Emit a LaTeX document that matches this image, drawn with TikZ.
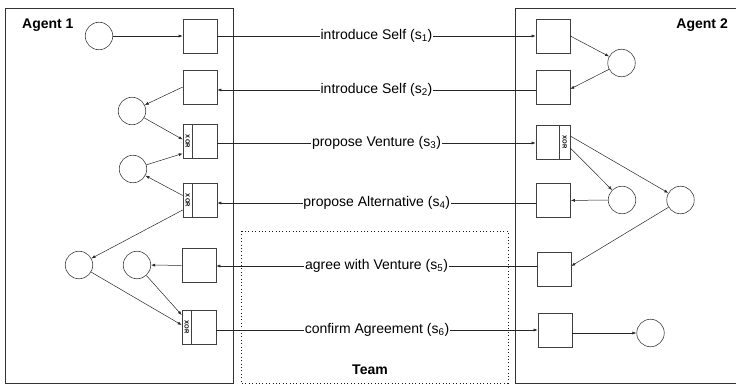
\documentclass[tikz,border=0pt]{standalone}
\usepackage{fontspec}
\setmainfont{Liberation Sans}
\usetikzlibrary{arrows.meta}
\begin{document}
\begin{tikzpicture}[x=1pt,y=-1pt,
  frame/.style={draw=black!80,line width=0.7pt},
  sq/.style={draw=black!75,line width=0.6pt,minimum size=34pt,inner sep=0pt},
  pl/.style={draw=black!75,line width=0.6pt,circle,minimum size=27.5pt,inner sep=0pt},
  arr/.style={draw=black!85,line width=0.5pt,-{Latex[length=4pt,width=3pt]}},
  lbl/.style={fill=white,inner sep=0.6pt,font=\fontsize{14}{16}\selectfont},
  ttl/.style={font=\fontsize{14}{16}\selectfont\bfseries,inner sep=0pt},
  xortxt/.style={font=\fontsize{6}{7}\selectfont\bfseries,rotate=-90,inner sep=0pt}]
\useasboundingbox (0,0) rectangle (736,385);
% frames
\draw[frame] (5,8) rectangle (233,383);
\draw[frame] (515,8) rectangle (745,383);
\draw[black!90,line width=1pt,dash pattern=on 1pt off 2.4pt] (241,231) rectangle (508,383);
\node[ttl,anchor=west] (ag1) at (22,25) {Agent 1};
\node[ttl,anchor=east] (ag2) at (728,25) {Agent 2};
\node[ttl] (team) at (370,370) {Team};
% Agent 1 nodes
\node[pl] (c1) at (99,36) {};
\node[sq] (s1) at (200,36) {};
\node[sq] (s2) at (200,87) {};
\node[pl] (c2) at (132,111) {};
\node[sq] (x3) at (200,141.5) {};
\node[pl] (c3) at (133,169) {};
\node[sq] (x4) at (200,200.5) {};
\node[pl] (c4) at (79,265) {};
\node[pl] (c5) at (137,265) {};
\node[sq] (s5) at (199,265.5) {};
\node[sq] (x6) at (199,327) {};
% Agent 2 nodes
\node[sq] (t1) at (553,36) {};
\node[sq] (t2) at (553,87) {};
\node[pl] (d1) at (621.5,63) {};
\node[sq] (y3) at (553,142) {};
\node[sq] (t4) at (553.5,200.5) {};
\node[pl] (d4a) at (622,200) {};
\node[pl] (d4b) at (680.5,200) {};
\node[sq] (t5) at (554,269) {};
\node[sq] (t6) at (555,330.5) {};
\node[pl] (d6) at (650.5,333) {};
% XOR strips
\foreach \n in {x3,x4,x6}{
  \draw[black!75,line width=0.6pt] ([xshift=10pt]\n.north west) -- ([xshift=10pt]\n.south west);
  \node[xortxt] at ([xshift=5pt]\n.west) {XOR};
}
\draw[black!75,line width=0.6pt] ([xshift=-11pt]y3.north east) -- ([xshift=-11pt]y3.south east);
\node[xortxt] at ([xshift=-5.5pt]y3.east) {XOR};
% Agent 1 arrows
\draw[arr] (c1) -- (s1);
\draw[arr] (s2.west) -- (c2);
\draw[arr] (c2) -- ([yshift=2pt]x3.west);
\draw[arr] (c3) -- ([yshift=-12pt]x3.west);
\draw[arr] ([yshift=5pt]x4.west) -- (c3);
\draw[arr] ([yshift=-9.5pt]x4.west) -- (c4);
\draw[arr] (s5) -- (c5);
\draw[arr] (c4) -- ([yshift=2pt]x6.west);
\draw[arr] (c5) -- ([yshift=12pt]x6.west);
% Agent 2 arrows
\draw[arr] (t1.east) -- (d1);
\draw[arr] (d1) -- ([yshift=-2pt]t2.east);
\draw[arr] ([yshift=6pt]y3.east) -- (d4b);
\draw[arr] ([yshift=-6pt]y3.east) -- (d4a);
\draw[arr] (d4a) -- (t4);
\draw[arr] (d4b) -- ([yshift=3pt]t5.east);
\draw[arr] ([yshift=-2.5pt]t6.east) -- (d6);
% messages
\draw[arr] (s1.east) -- node[lbl]{introduce Self (s\textsubscript{1})} (t1.west);
\draw[arr] ([yshift=-3pt]t2.west) -- node[lbl]{introduce Self (s\textsubscript{2})} ([yshift=-3pt]s2.east);
\draw[arr] ([yshift=-1.5pt]x3.east) -- node[lbl]{propose Venture (s\textsubscript{3})} ([yshift=-1pt]y3.west);
\draw[arr] ([yshift=-2.5pt]t4.west) -- node[lbl]{propose Alternative (s\textsubscript{4})} ([yshift=-2.5pt]x4.east);
\draw[arr] ([yshift=3pt]t5.west) -- node[lbl]{agree with Venture (s\textsubscript{5})} ([yshift=-0.5pt]s5.east);
\draw[arr] ([yshift=-3pt]x6.east) -- node[lbl]{confirm Agreement (s\textsubscript{6})} ([yshift=0.5pt]t6.west);
\end{tikzpicture}
\end{document}
